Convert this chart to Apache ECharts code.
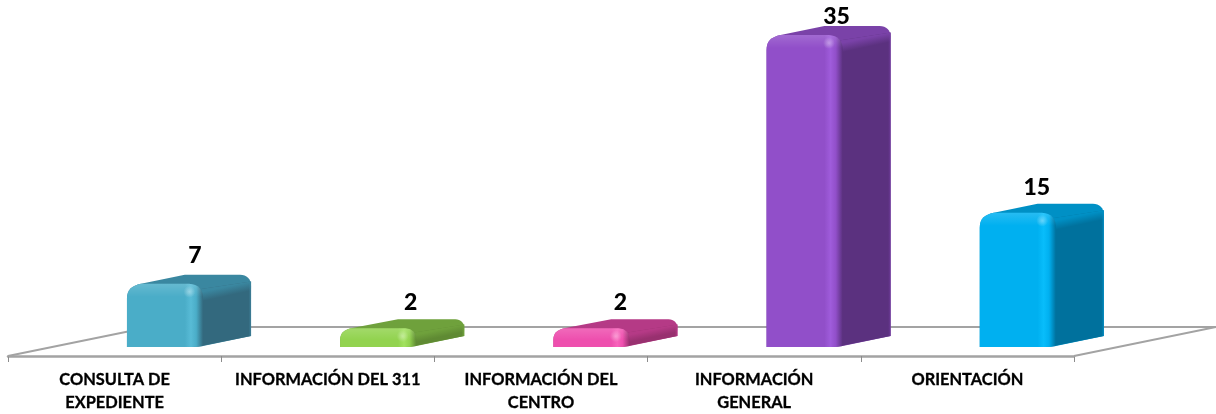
<!DOCTYPE html>
<html>
<head>
<meta charset="utf-8">
<title>Consultas</title>
<script src="https://cdn.jsdelivr.net/npm/echarts@6/dist/echarts.min.js"></script>
<style>
    html, body { margin: 0; padding: 0; background: #fff; }
    #chart { width: 1216px; height: 414px; }
</style>
</head>
<body>
<div id="chart"></div>
<script>
// Data
// ------------------------------

var categories = [
    'CONSULTA DE\nEXPEDIENTE',
    'INFORMACIÓN DEL 311',
    'INFORMACIÓN DEL\nCENTRO',
    'INFORMACIÓN\nGENERAL',
    'ORIENTACIÓN'
];
var values = [7, 2, 2, 35, 15];

// Colours of each box
var frontColors = ['#4aadc8', '#92d34f', '#ee4fae', '#914fc9', '#00b0f0'];
var lightColors = ['#58bbd6', '#a2e25f', '#f863bb', '#9f5cdb', '#08bdfb'];
var sideColors = ['#33697e', '#5f8a33', '#98306f', '#5b317f', '#00719d'];
var topColors = ['#3a87a0', '#6fa13c', '#b53a86', '#7a42a8', '#0090c5'];

// Small corrections of the value labels, in pixels
var labelShiftX = [1, 3.5, 0, 3, -10];
var labelShiftY = [-3, -1, -1, 7, 0];

// Floor and box proportions
var axisOffset = 9;
var floorDx = 142;
var floorDy = 29;
var lineGrey = '#a3a3a3';


// Helpers
// ------------------------------

function hGrad(x0, x1, stops) {
    return new echarts.graphic.LinearGradient(x0, 0, x1, 0, stops, true);
}
function vGrad(y0, y1, stops) {
    return new echarts.graphic.LinearGradient(0, y0, 0, y1, stops, true);
}

// The floor is drawn from the grid rectangle
function renderFloor(params, api) {
    var rect = params.coordSys;
    var xl = rect.x;
    var xr = rect.x + rect.width;
    var yf = rect.y + rect.height + axisOffset;
    var yb = yf - floorDy;
    return {
        type: 'polyline',
        shape: { points: [[xl, yf], [xl + floorDx, yb], [xr + floorDx, yb], [xr, yf]] },
        style: { stroke: lineGrey, lineWidth: 2, fill: null }
    };
}

// One rounded box, its size comes from the axes
function renderBox(params, api) {
    var i = params.dataIndex;
    var base = api.coord([api.value(0), 0]);
    var tip = api.coord([api.value(0), api.value(1)]);
    var band = api.size([1, 0])[0];

    var x0 = base[0] + band * 0.058;
    var w = band * 0.357;
    var dx = band * 0.225;
    var dy = 10;
    var fr = x0 + w;
    var xr = fr + dx;
    var yb = base[1];
    var yt = tip[1];
    var r = Math.min(14, (yb - yt) * 0.6);
    var rr = Math.min(11, (yb - yt) * 0.5);

    var silhouette = [
        'M', x0, yb,
        'L', x0, yt + r,
        'C', x0, yt + r * 0.35, x0 + r * 0.35, yt + 1, x0 + r, yt - 1,
        'L', x0 + w * 0.76, yt - dy,
        'L', xr - rr, yt - dy,
        'C', xr - rr * 0.4, yt - dy, xr, yt - dy + rr * 0.4, xr, yt - dy + rr,
        'L', xr, yb - dy - 1,
        'L', fr, yb - 1,
        'Q', fr - 5, yb, fr - 11, yb,
        'Z'
    ].join(' ');

    var side = [
        'M', fr - 2, yb - 1,
        'L', fr - 2, yt + r * 0.3,
        'L', xr, yt - dy + rr * 0.6,
        'L', xr, yb - dy - 1,
        'Z'
    ].join(' ');

    var front = [
        'M', x0, yb,
        'L', x0, yt + r,
        'C', x0, yt + r * 0.35, x0 + r * 0.35, yt + 1, x0 + r, yt - 1,
        'L', fr - r, yt - 1,
        'Q', fr, yt, fr, yt + r,
        'L', fr, yb - 1,
        'Q', fr - 5, yb, fr - 11, yb,
        'Z'
    ].join(' ');

    var bevelEnd = yt + Math.min(12, (yb - yt) * 0.6);

    // Soft edge between the top and the side, across the slanted edge
    var edgeX = xr;
    var edgeY = yt - dy + rr * 0.6;
    var edgeFade = Math.min(9, (yb - yt) * 0.4);
    var topColor = echarts.color.parse(topColors[i]);
    var topRgb = topColor[0] + ',' + topColor[1] + ',' + topColor[2];

    return {
        type: 'group',
        children: [
            {
                type: 'path',
                shape: { pathData: silhouette },
                style: { fill: topColors[i] }
            },
            {
                type: 'path',
                shape: { pathData: side },
                style: {
                    fill: hGrad(fr - 2, xr, [
                        { offset: 0, color: sideColors[i] },
                        { offset: 0.95, color: sideColors[i] },
                        { offset: 1, color: echarts.color.lift(sideColors[i], -0.2) }
                    ])
                }
            },
            {
                type: 'path',
                shape: { pathData: side },
                style: {
                    fill: new echarts.graphic.LinearGradient(
                        edgeX, edgeY,
                        edgeX + edgeFade * 0.21, edgeY + edgeFade * 0.98,
                        [
                            { offset: 0, color: 'rgba(' + topRgb + ',1)' },
                            { offset: 1, color: 'rgba(' + topRgb + ',0)' }
                        ],
                        true
                    )
                }
            },
            {
                type: 'path',
                shape: { pathData: front },
                style: {
                    fill: hGrad(x0, fr, [
                        { offset: 0, color: frontColors[i] },
                        { offset: 0.76, color: frontColors[i] },
                        { offset: 0.84, color: lightColors[i] },
                        { offset: 0.91, color: frontColors[i] },
                        { offset: 1, color: sideColors[i] }
                    ])
                }
            },
            {
                type: 'path',
                shape: { pathData: front },
                style: {
                    fill: vGrad(yt, bevelEnd, [
                        { offset: 0, color: 'rgba(255,255,255,0.14)' },
                        { offset: 1, color: 'rgba(255,255,255,0)' }
                    ])
                }
            },
            {
                type: 'circle',
                shape: { cx: x0 + w * 0.82, cy: yt + Math.min(7, (yb - yt) * 0.4), r: 6 },
                style: {
                    fill: new echarts.graphic.RadialGradient(0.5, 0.5, 0.5, [
                        { offset: 0, color: 'rgba(255,255,255,0.35)' },
                        { offset: 1, color: 'rgba(255,255,255,0)' }
                    ])
                }
            },
            {
                type: 'text',
                style: {
                    text: String(api.value(1)),
                    x: x0 + w * 0.88 + labelShiftX[i],
                    y: yt - 26 + labelShiftY[i],
                    align: 'center',
                    verticalAlign: 'middle',
                    font: '900 23px Lato',
                    fill: '#000'
                }
            }
        ]
    };
}


// Chart
// ------------------------------

var chart = echarts.init(document.getElementById('chart'), null, { renderer: 'canvas' });

chart.setOption({
    animation: false,
    backgroundColor: '#fff',
    grid: { left: 8, right: 142, top: 36, bottom: 65.5 },
    xAxis: {
        type: 'category',
        data: categories,
        offset: axisOffset,
        axisLine: { onZero: false, lineStyle: { color: lineGrey, width: 2.5 } },
        axisTick: { show: true, length: 6, lineStyle: { color: '#8c8c8c', width: 1 } },
        axisLabel: {
            interval: 0,
            margin: 12,
            color: '#000',
            fontFamily: 'Lato',
            fontWeight: 'bold',
            fontSize: 16.4,
            lineHeight: 23,
            verticalAlign: 'top',
            textBorderColor: '#000',
            textBorderWidth: 0.3
        }
    },
    yAxis: { type: 'value', min: 0, max: 35, show: false, splitLine: { show: false } },
    series: [
        {
            type: 'custom',
            name: 'floor',
            z: 1,
            clip: false,
            silent: true,
            renderItem: renderFloor,
            data: [[0, 0]]
        },
        {
            type: 'custom',
            name: 'consultas',
            z: 2,
            clip: false,
            renderItem: renderBox,
            encode: { x: 0, y: 1 },
            data: values.map(function(v, i) { return [i, v]; })
        }
    ]
});
</script>
</body>
</html>
